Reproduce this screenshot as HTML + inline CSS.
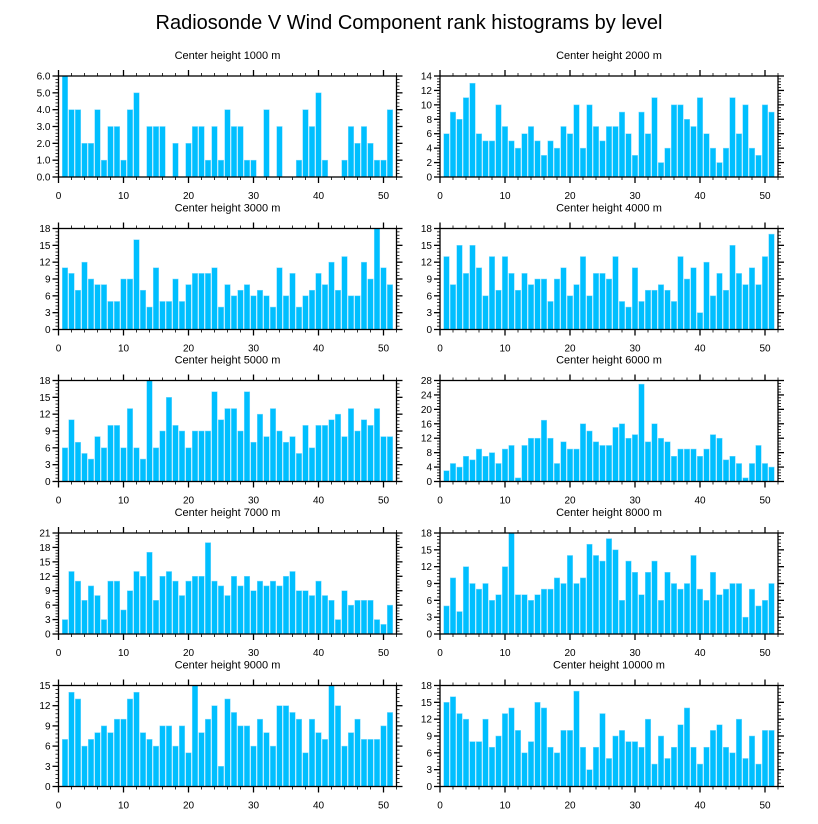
<!DOCTYPE html>
<html><head><meta charset="utf-8"><style>
body{margin:0;background:#fff;}
svg{display:block;font-family:"Liberation Sans",sans-serif;}
</style></head><body>
<svg id="chart" width="818" height="824" viewBox="0 0 818 824">
<text x="409" y="29" font-size="20" text-anchor="middle" fill="#000">Radiosonde V Wind Component rank histograms by level</text>
</svg>
<script>
const levels = [1000,2000,3000,4000,5000,6000,7000,8000,9000,10000];
const yMaxes = [6,14,18,18,18,28,21,18,15,18];
const ySteps = [1,2,3,3,3,4,3,3,3,3];
const xTicks = [0,10,20,30,40,50];
const v1000 = [6,4,4,2,2,4,1,3,3,1,4,5,0,3,3,3,0,2,0,2,3,3,1,3,1,4,3,3,1,1,0,4,0,3,0,0,1,4,3,5,1,0,0,1,3,2,3,2,1,1,4];
const v2000 = [6,9,8,11,13,6,5,5,10,7,5,4,6,7,5,3,5,4,7,6,10,4,10,7,5,7,7,9,6,3,9,6,11,2,4,10,10,8,7,11,6,4,2,4,11,6,10,4,3,10,9];
const v3000 = [11,10,7,12,9,8,8,5,5,9,9,16,7,4,11,5,5,9,5,8,10,10,10,11,4,8,6,7,8,6,7,6,4,11,6,10,4,6,7,10,8,12,7,13,6,6,12,9,18,11,8];
const v4000 = [13,8,15,10,15,11,6,13,7,13,10,7,10,8,9,9,5,9,11,6,8,13,6,10,10,9,13,5,4,11,5,7,7,8,7,5,13,9,11,3,12,6,10,7,15,10,8,11,8,13,17];
const v5000 = [6,11,7,5,4,8,6,10,10,6,13,6,4,18,6,9,15,10,9,6,9,9,9,16,11,13,13,9,16,7,12,8,13,9,7,8,5,10,6,10,10,11,12,8,13,9,11,10,13,8,8];
const v6000 = [3,5,4,7,6,9,7,8,5,9,10,1,10,12,12,17,12,5,11,9,9,16,14,11,10,10,15,16,12,13,27,11,16,12,11,7,9,9,9,7,9,13,12,6,7,5,1,5,10,5,4];
const v7000 = [3,13,11,7,10,8,3,11,11,5,9,13,12,17,7,12,13,11,8,11,12,12,19,11,10,8,12,10,12,9,11,10,11,10,12,13,9,9,8,11,8,7,3,9,6,7,7,7,3,2,6];
const v8000 = [5,10,4,12,9,8,9,6,7,12,18,7,7,6,7,8,8,10,9,14,9,10,16,14,13,17,15,6,13,11,7,11,13,6,11,9,8,9,14,8,6,11,7,8,9,9,3,8,5,6,9];
const v9000 = [7,14,13,6,7,8,9,8,10,10,13,14,8,7,6,9,9,6,9,5,15,8,10,12,3,13,11,9,9,6,10,8,6,12,12,11,10,5,10,8,7,15,12,6,8,10,7,7,7,9,11];
const v10000 = [15,16,13,12,8,8,12,7,9,13,14,10,6,8,15,14,7,6,10,10,17,7,3,7,13,5,9,10,8,8,7,12,4,9,5,7,11,14,7,4,7,10,11,7,6,12,5,9,4,10,10];
const series = [v1000,v2000,v3000,v4000,v5000,v6000,v7000,v8000,v9000,v10000];

const NS = "http://www.w3.org/2000/svg";
const svg = document.getElementById('chart');
const lefts = [58.5, 440];
const tops = [76, 228.5, 380.5, 533, 685.5];
const W = 338, H = 101, XMAX = 52;
function mk(tag, attrs, parent){
  const e = document.createElementNS(NS, tag);
  for (const k in attrs) e.setAttribute(k, attrs[k]);
  parent.appendChild(e);
  return e;
}
series.forEach((vals, p) => {
  const x0 = lefts[p % 2], y0 = tops[Math.floor(p / 2)];
  const ymax = yMaxes[p], ystep = ySteps[p];
  const xs = v => x0 + v / XMAX * W;
  const ys = v => y0 + H - v / ymax * H;
  const g = mk('g', {}, svg);
  
  
  const t = mk('text', {x: x0 + W / 2, y: y0 - 17, 'font-size': 11, 'text-anchor': 'middle', fill: '#000'}, g);
  
  
  t.textContent = 'Center height ' + levels[p] + ' m';
  vals.forEach((v, i) => {
    if (v <= 0) return;
    const bw = 0.85 / XMAX * W;
    const r = mk('rect', {x: xs(i + 1) - bw / 2, y: ys(v), width: bw, height: ys(0) - ys(v), fill: '#00BFFF', stroke: '#7FDBFF', 'stroke-width': 0.5}, g);
    
    
  });
  const f = mk('rect', {x: x0, y: y0, width: W, height: H, fill: 'none', stroke: '#000', 'stroke-width': 1.3}, g);
  
  
  // x ticks
  for (let v = 0; v <= XMAX; v += 2) {
    const major = v % 10 === 0, L = major ? 6 : 3, x = xs(v);
    mk('line', {x1: x, x2: x, y1: y0 + H, y2: y0 + H + L, stroke: '#000', 'stroke-width': major ? 1.3 : 0.8}, g);
    mk('line', {x1: x, x2: x, y1: y0, y2: y0 - L, stroke: '#000', 'stroke-width': major ? 1.3 : 0.8}, g);
  }
  xTicks.forEach(v => {
    const tl = mk('text', {x: xs(v), y: y0 + H + 22, 'font-size': 10, 'text-anchor': 'middle', fill: '#000'}, g);
    
    
    tl.textContent = v;
  });
  // y ticks
  const minor = ystep / 5;
  for (let k = 0; k <= Math.round(ymax / minor); k++) {
    const v = k * minor, major = k % 5 === 0, L = major ? 6 : 3, y = ys(v);
    mk('line', {x1: x0, x2: x0 - L, y1: y, y2: y, stroke: '#000', 'stroke-width': major ? 1.3 : 0.8}, g);
    mk('line', {x1: x0 + W, x2: x0 + W + L, y1: y, y2: y, stroke: '#000', 'stroke-width': major ? 1.3 : 0.8}, g);
  }
  for (let v = 0; v <= ymax + 1e-9; v += ystep) {
    const tl = mk('text', {x: x0 - 8, y: ys(v) + 3.5, 'font-size': 10, 'text-anchor': 'end', fill: '#000'}, g);
    
    
    tl.textContent = p === 0 ? v.toFixed(1) : v;
  }
});
</script>
</body></html>
